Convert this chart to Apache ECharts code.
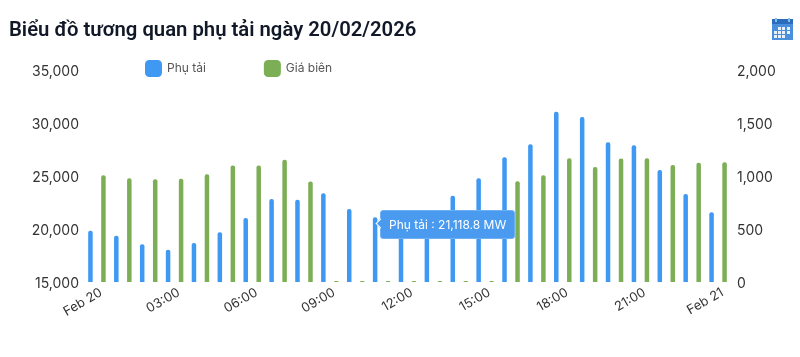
<!DOCTYPE html>
<html>
<head>
<meta charset="utf-8">
<style>
  html, body { margin: 0; padding: 0; background: #fff; }
  #chart { width: 800px; height: 357px; }
</style>
<script src="https://cdn.jsdelivr.net/npm/echarts@6/dist/echarts.min.js"></script>
</head>
<body>
<div id="chart"></div>
<script>
const hours = [
  "Feb 20", "01:00", "02:00", "03:00", "04:00", "05:00", "06:00", "07:00", "08:00",
  "09:00", "10:00", "11:00", "12:00", "13:00", "14:00", "15:00", "16:00", "17:00",
  "18:00", "19:00", "20:00", "21:00", "22:00", "23:00", "Feb 21"
];
const load = [
  19843, 19372, 18554, 18050, 18680, 19686, 21038, 22830, 22770,
  23365, 21888, 21118.8, 20800, 21600, 23145, 24780, 26760, 27990,
  31070, 30570, 28180, 27895, 25570, 23300, 21570
];
const price = [
  1006, 978, 969, 975, 1016, 1098, 1098, 1154, 947,
  10, 10, 10, 10, 10, 10, 10, 950, 1006,
  1167, 1085, 1164, 1167, 1104, 1126, 1129
];

const fontName = "Inter, Roboto, sans-serif";
const chart = echarts.init(document.getElementById("chart"));

// calendar icon top right
const calendarIcon = [
  { type: "rect", shape: { x: 772, y: 19, width: 21, height: 21 }, style: { fill: "#4a8fdc" } },
  { type: "rect", shape: { x: 772, y: 19, width: 21, height: 5 }, style: { fill: "#2b6cbc" } },
  { type: "rect", shape: { x: 775, y: 18, width: 2, height: 4 }, style: { fill: "#7cc4ea" } },
  { type: "rect", shape: { x: 788, y: 18, width: 2, height: 4 }, style: { fill: "#7cc4ea" } }
];
[[778, 27], [782, 27], [787, 27], [774, 31], [778, 31], [782, 31], [787, 31], [774, 35], [778, 35], [782, 35]].forEach((p) => {
  calendarIcon.push({ type: "rect", shape: { x: p[0], y: p[1], width: 3, height: 3 }, style: { fill: "#e8f1fb" } });
});

chart.setOption({
  animation: false,
  title: {
    text: "Biểu đồ tương quan phụ tải ngày 20/02/2026",
    left: 9,
    top: 21,
    padding: 0,
    textStyle: { fontFamily: "Roboto, sans-serif", fontSize: 20.3, fontWeight: 600, color: "#111827" }
  },
  legend: {
    left: 145,
    top: 60,
    padding: 0,
    itemWidth: 17,
    itemHeight: 17,
    itemGap: 58,
    icon: "roundRect",
    textStyle: { fontFamily: fontName, fontSize: 12, color: "#555" },
    data: ["Phụ tải", "Giá biên"]
  },
  grid: { left: 84, right: 69, top: 70, bottom: 75 },
  tooltip: {
    trigger: "item",
    alwaysShowContent: true,
    showDelay: 0,
    transitionDuration: 0,
    backgroundColor: "#4a9bf0",
    borderColor: "#6fb0f5",
    borderWidth: 1,
    borderRadius: 3,
    padding: [5, 8],
    textStyle: { fontFamily: fontName, fontSize: 12, color: "#fff" },
    extraCssText: "box-shadow:none;line-height:17px;",
    position: () => [380, 210],
    formatter: (p) =>
      `<span style="position:absolute;left:-4px;top:9px;width:7px;height:7px;box-sizing:border-box;background:#4a9bf0;border-left:1px solid #fff;border-bottom:1px solid #fff;transform:rotate(45deg)"></span>` +
      `${p.seriesName} : ${p.value.toLocaleString("en-US")} MW`
  },
  xAxis: {
    type: "category",
    data: hours,
    axisLine: { show: false },
    axisTick: { show: false },
    axisLabel: {
      interval: 2,
      rotate: 30,
      margin: 12,
      padding: [6, -5, 0, 0],
      fontFamily: fontName,
      fontSize: 13,
      color: "#333"
    }
  },
  yAxis: [
    {
      type: "value",
      min: 15000,
      max: 35000,
      interval: 5000,
      splitLine: { show: false },
      axisLabel: { margin: 5, verticalAlign: "top", lineHeight: 4, fontFamily: fontName, fontSize: 14, color: "#333" }
    },
    {
      type: "value",
      min: 0,
      max: 2000,
      interval: 500,
      splitLine: { show: false },
      axisLabel: { margin: 6, verticalAlign: "top", lineHeight: 4, fontFamily: fontName, fontSize: 14, color: "#333" }
    }
  ],
  series: [
    {
      name: "Phụ tải",
      type: "bar",
      yAxisIndex: 0,
      data: load,
      barWidth: 4.5,
      barGap: "189%",
      itemStyle: { color: "#3f98f2", borderRadius: [2, 2, 0, 0] }
    },
    {
      name: "Giá biên",
      type: "bar",
      yAxisIndex: 1,
      data: price,
      barWidth: 4.5,
      itemStyle: { color: "#7caf55", borderRadius: [2, 2, 0, 0] }
    }
  ],
  graphic: calendarIcon
});

chart.dispatchAction({ type: "showTip", seriesIndex: 0, dataIndex: 11 });
</script>
</body>
</html>
